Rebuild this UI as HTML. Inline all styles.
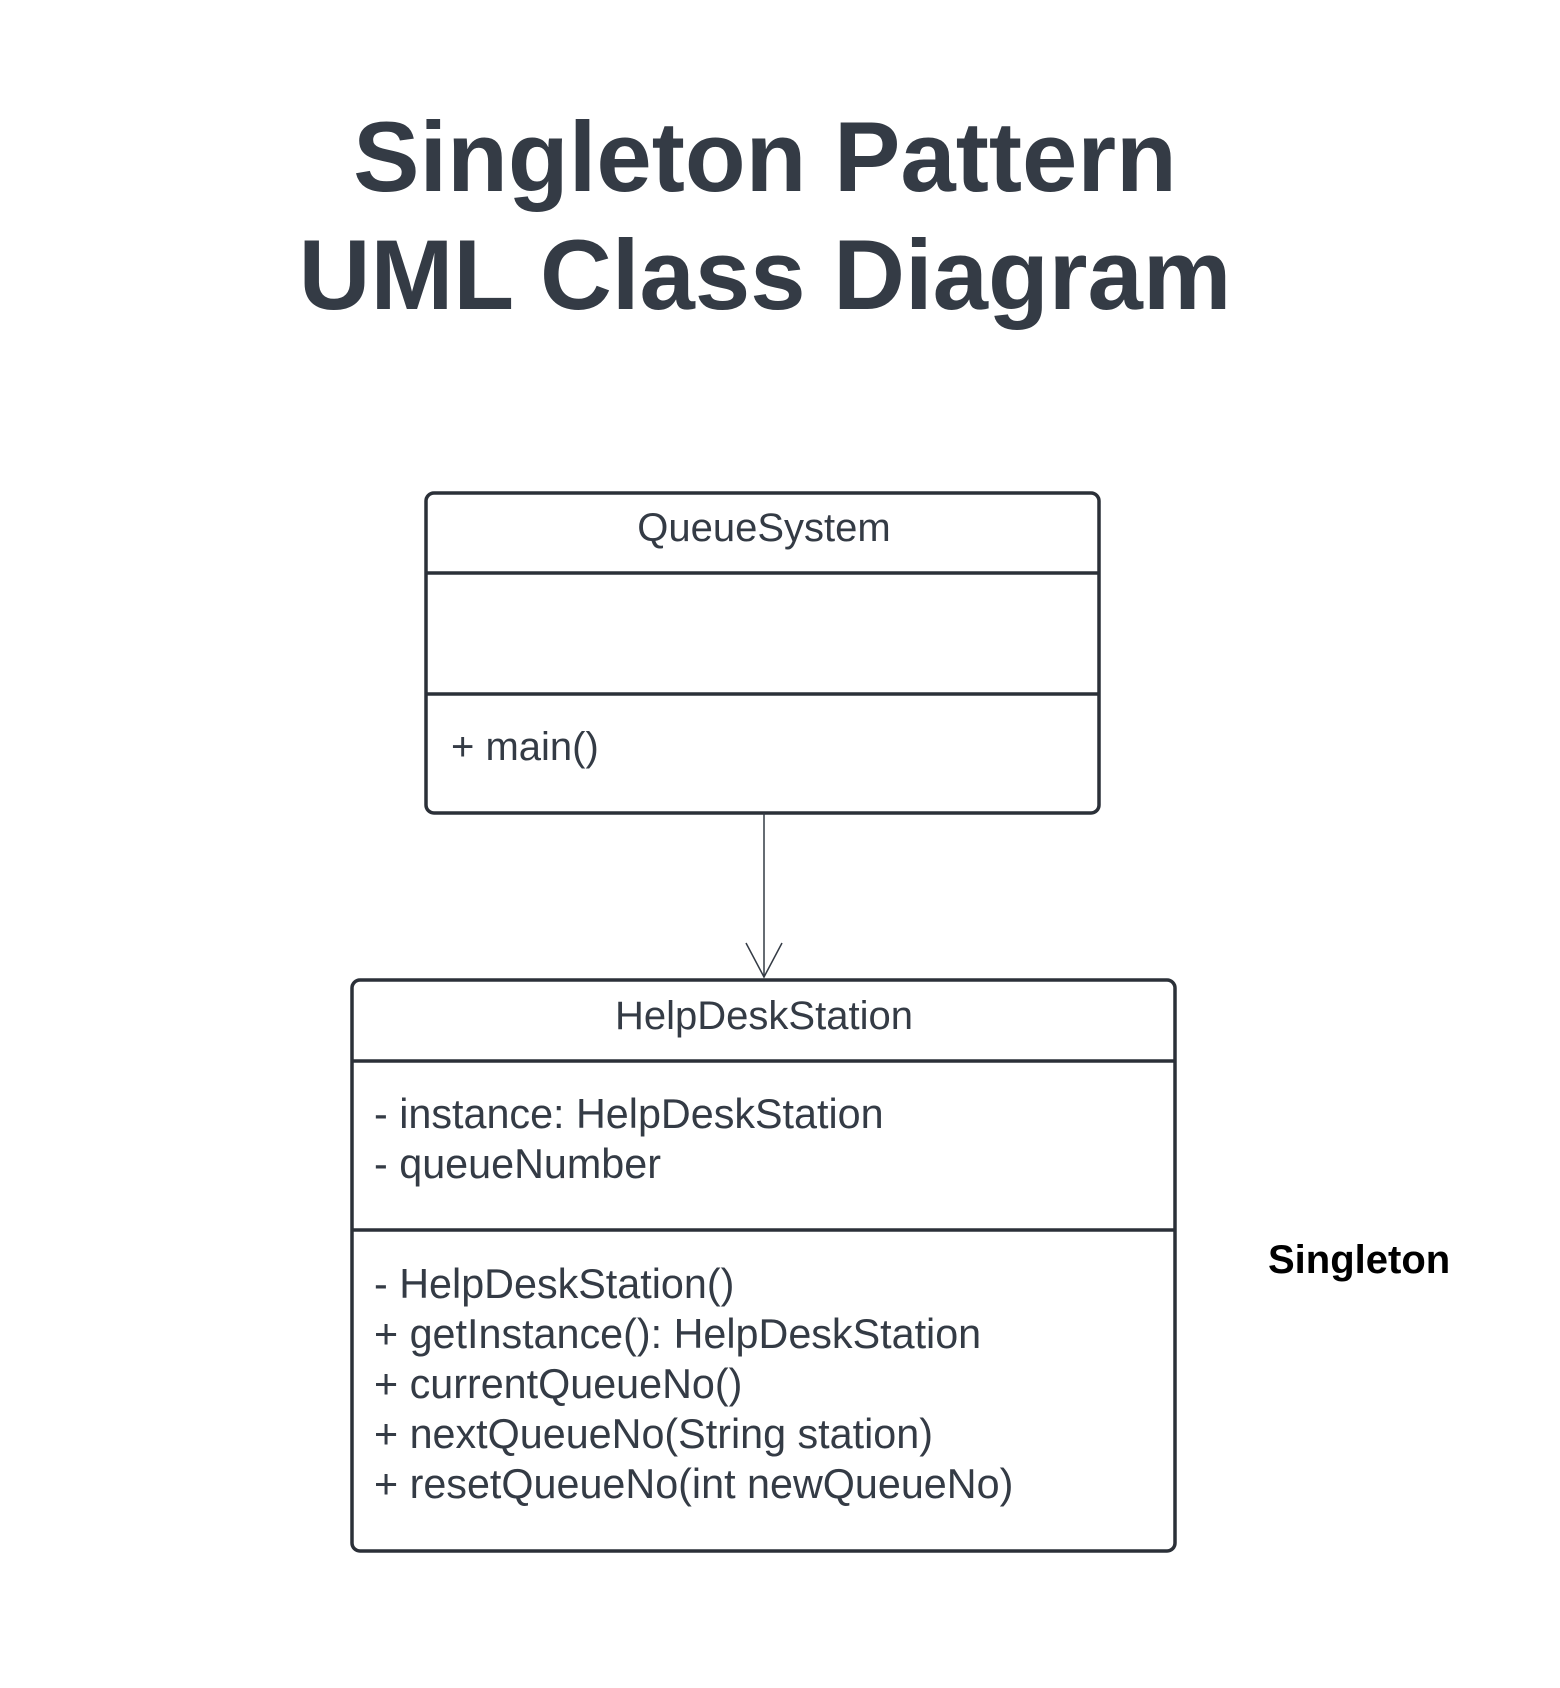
<!DOCTYPE html>
<html><head><meta charset="utf-8"><style>
html,body{margin:0;padding:0;background:#fff;}
svg{display:block;}
text{font-family:"Liberation Sans",Arial,sans-serif;fill:#343b45;}
</style></head><body>
<svg width="1560" height="1688" viewBox="0 0 1560 1688" xmlns="http://www.w3.org/2000/svg">
<text x="765" y="191" font-size="99.5" font-weight="bold" text-anchor="middle">Singleton Pattern</text>
<text x="765" y="309" font-size="99.5" font-weight="bold" text-anchor="middle">UML Class Diagram</text>

<g fill="none" stroke="#2b3038" stroke-width="3.5">
<rect x="426" y="493" width="673" height="320" rx="8"/>
<line x1="426" y1="573" x2="1099" y2="573"/>
<line x1="426" y1="694" x2="1099" y2="694"/>
<rect x="352" y="980" width="823" height="571" rx="8"/>
<line x1="352" y1="1061" x2="1175" y2="1061"/>
<line x1="352" y1="1230" x2="1175" y2="1230"/>
</g>
<g fill="none" stroke="#343b45" stroke-width="1.5">
<line x1="764" y1="813" x2="764" y2="977"/>
<polyline points="746,943 764,977 782,943"/>
</g>

<text x="764" y="541" font-size="40" text-anchor="middle">QueueSystem</text>
<text x="451" y="760" font-size="40">+ main()</text>

<text x="764" y="1029" font-size="40" text-anchor="middle">HelpDeskStation</text>
<text x="374" y="1128" font-size="41.3">- instance: HelpDeskStation</text>
<text x="374" y="1178" font-size="41.3">- queueNumber</text>
<text x="374" y="1298" font-size="41.3">- HelpDeskStation()</text>
<text x="374" y="1348" font-size="41.3">+ getInstance(): HelpDeskStation</text>
<text x="374" y="1398" font-size="41.3">+ currentQueueNo()</text>
<text x="374" y="1448" font-size="41.3">+ nextQueueNo(String station)</text>
<text x="374" y="1498" font-size="41.3">+ resetQueueNo(int newQueueNo)</text>

<text x="1268" y="1273" font-size="40" font-weight="bold" style="fill:#000">Singleton</text>
</svg>
</body></html>
